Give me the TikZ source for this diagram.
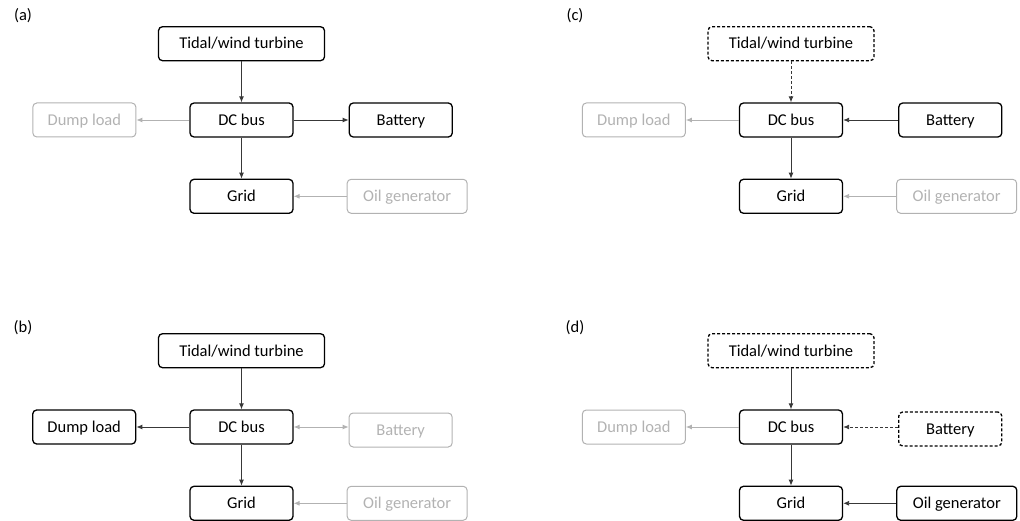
\documentclass[tikz,border=0pt]{standalone}
\usepackage{fontspec}
\setmainfont{Carlito}
\usetikzlibrary{positioning}
\usetikzlibrary{arrows.meta}

\begin{document}
\begin{tikzpicture}[x=1pt, y=1pt, every node/.style={font=\fontsize{16.5}{19}\selectfont}]
		% Operating modes of the hybrid tidal/wind system

% Colors
\definecolor{lgrey}{rgb}{0.70,0.70,0.70}
\definecolor{dgrey}{rgb}{0.22,0.22,0.22}

\tikzset{
	unit/.style={draw, rounded corners=4pt, line width=1.3pt, minimum width=103pt, minimum height=34pt, inner sep=0pt, text height=12.6pt, text depth=2pt},
	offunit/.style={unit, draw=lgrey, text=lgrey, line width=1pt},
	standby/.style={unit, dash pattern=on 3pt off 2pt},
	flow/.style={-{Latex[length=6pt,width=5pt]}, draw=dgrey, line width=0.9pt},
	noflow/.style={flow, draw=lgrey},
	idle/.style={flow, dash pattern=on 3pt off 2pt}
}

\useasboundingbox (0,0) rectangle (1020,520);

% Panel (a)
\node (lab-a) at (23,504) {(a)};
\node[unit] (dc-a) at (241.5,400) {DC bus};
\node[unit, minimum width=166pt, above=41pt of dc-a] (tw-a) {Tidal/wind turbine};
\node[unit, right=55pt of dc-a] (bat-a) {Battery};
\node[offunit, left=53pt of dc-a] (dump-a) {Dump load};
\node[unit, below=41pt of dc-a] (grid-a) {Grid};
\node[offunit, minimum width=120pt, right=53pt of grid-a] (oil-a) {Oil generator};

\draw[flow] (tw-a) -- (dc-a);
\draw[flow] (dc-a) -- (bat-a);
\draw[noflow] (dc-a) -- (dump-a);
\draw[flow] (dc-a) -- (grid-a);
\draw[noflow] (oil-a) -- (grid-a);

% Panel (b)
\node (lab-b) at (23,192) {(b)};
\node[unit] (dc-b) at (241.5,93) {DC bus};
\node[unit, minimum width=166pt, above=41pt of dc-b] (tw-b) {Tidal/wind turbine};
\node[offunit, right=55pt of dc-b, yshift=-3pt] (bat-b) {Battery};
\node[unit, left=53pt of dc-b] (dump-b) {Dump load};
\node[unit, below=41pt of dc-b] (grid-b) {Grid};
\node[offunit, minimum width=120pt, right=53pt of grid-b] (oil-b) {Oil generator};

\draw[flow] (tw-b) -- (dc-b);
\draw[noflow, {Latex[length=6pt,width=5pt]}-{Latex[length=6pt,width=5pt]}] (dc-b.east) -- (dc-b.east -| bat-b.west);
\draw[flow] (dc-b) -- (dump-b);
\draw[flow] (dc-b) -- (grid-b);
\draw[noflow] (oil-b) -- (grid-b);

% Panel (c)
\node (lab-c) at (575,504) {(c)};
\node[unit] (dc-c) at (791,400) {DC bus};
\node[standby, minimum width=166pt, above=41pt of dc-c] (tw-c) {Tidal/wind turbine};
\node[unit, right=55pt of dc-c] (bat-c) {Battery};
\node[offunit, left=53pt of dc-c] (dump-c) {Dump load};
\node[unit, below=41pt of dc-c] (grid-c) {Grid};
\node[offunit, minimum width=120pt, right=53pt of grid-c] (oil-c) {Oil generator};

\draw[idle] (tw-c) -- (dc-c);
\draw[flow] (bat-c) -- (dc-c);
\draw[noflow] (dc-c) -- (dump-c);
\draw[flow] (dc-c) -- (grid-c);
\draw[noflow] (oil-c) -- (grid-c);

% Panel (d)
\node (lab-d) at (575,192) {(d)};
\node[unit] (dc-d) at (791,93) {DC bus};
\node[standby, minimum width=166pt, above=41pt of dc-d] (tw-d) {Tidal/wind turbine};
\node[standby, right=55pt of dc-d, yshift=-2pt] (bat-d) {Battery};
\node[offunit, left=53pt of dc-d] (dump-d) {Dump load};
\node[unit, below=41pt of dc-d] (grid-d) {Grid};
\node[unit, minimum width=120pt, right=53pt of grid-d] (oil-d) {Oil generator};

\draw[flow] (tw-d) -- (dc-d);
\draw[idle] (dc-d.east -| bat-d.west) -- (dc-d.east);
\draw[noflow] (dc-d) -- (dump-d);
\draw[flow] (dc-d) -- (grid-d);
\draw[flow] (oil-d) -- (grid-d);
	\end{tikzpicture}
\end{document}
